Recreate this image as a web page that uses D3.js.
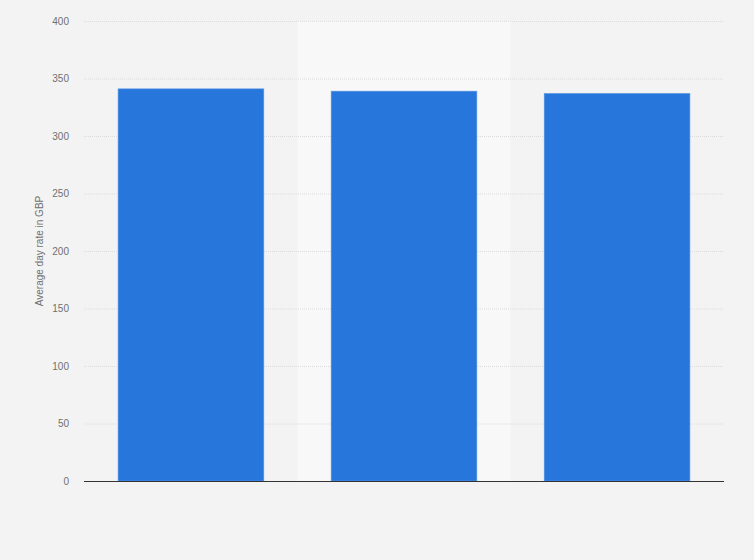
<!DOCTYPE html>
<html>
<head>
<meta charset="utf-8">
<script src="https://cdn.jsdelivr.net/npm/d3@7"></script>
<style>
  html, body { margin: 0; padding: 0; background: #f3f3f3; }
  svg { display: block; font-family: "Liberation Sans", Arial, sans-serif; }
</style>
</head>
<body>
<div id="chart"></div>
<script>
// values
const categories = ["A", "B", "C"];
const values = [341, 339, 337];
const yTicks = [0, 50, 100, 150, 200, 250, 300, 350, 400];
const yLabel = "Average day rate in GBP";
const highlighted = "B";

const width = 754;
const height = 560;
const margin = { top: 21, right: 30, bottom: 79, left: 84 };

const svg = d3.select("#chart")
  .append("svg")
  .attr("width", width)
  .attr("height", height);

svg.append("rect")
  .attr("width", width)
  .attr("height", height)
  .attr("fill", "#f3f3f3");

const x = d3.scaleBand()
  .domain(categories)
  .range([margin.left, width - margin.right])
  .paddingInner(0.316)
  .paddingOuter(0.16);

const y = d3.scaleLinear()
  .domain([0, 400])
  .range([height - margin.bottom, margin.top]);

// hover band behind the middle column
const step = x.step();
svg.append("rect")
  .attr("x", x(highlighted) + x.bandwidth() / 2 - step / 2)
  .attr("y", y(400))
  .attr("width", step)
  .attr("height", y(0) - y(400))
  .attr("fill", "#f8f8f8");

// gridlines
const yAxis = d3.axisLeft(y)
  .tickValues(yTicks)
  .tickSize(-(width - margin.left - margin.right))
  .tickPadding(15)
  .tickFormat(d3.format("d"));

const gy = svg.append("g")
  .attr("transform", `translate(${margin.left},0)`)
  .call(yAxis);

gy.select(".domain").remove();
gy.selectAll(".tick line")
  .attr("stroke", "#dcdcdc")
  .attr("stroke-dasharray", "1,1");
gy.selectAll(".tick text")
  .attr("fill", "#707070")
  .style("font-size", "10px");

// bars
svg.selectAll("rect.bar")
  .data(values)
  .enter()
  .append("rect")
  .attr("class", "bar")
  .attr("x", (d, i) => x(categories[i]))
  .attr("y", d => y(d))
  .attr("width", x.bandwidth())
  .attr("height", d => y(0) - y(d))
  .attr("fill", "#2776db")
  .attr("stroke", "#5b98e6")
  .attr("stroke-width", 0.6);

// baseline
svg.append("line")
  .attr("x1", margin.left)
  .attr("x2", width - margin.right)
  .attr("y1", y(0) + 0.5)
  .attr("y2", y(0) + 0.5)
  .attr("stroke", "#333")
  .attr("stroke-width", 1);

// y label
svg.append("text")
  .attr("transform", `translate(43, ${(y(0) + y(400)) / 2}) rotate(-90)`)
  .attr("text-anchor", "middle")
  .attr("fill", "#707070")
  .style("font-size", "10px")
  .text(yLabel);
</script>
</body>
</html>
